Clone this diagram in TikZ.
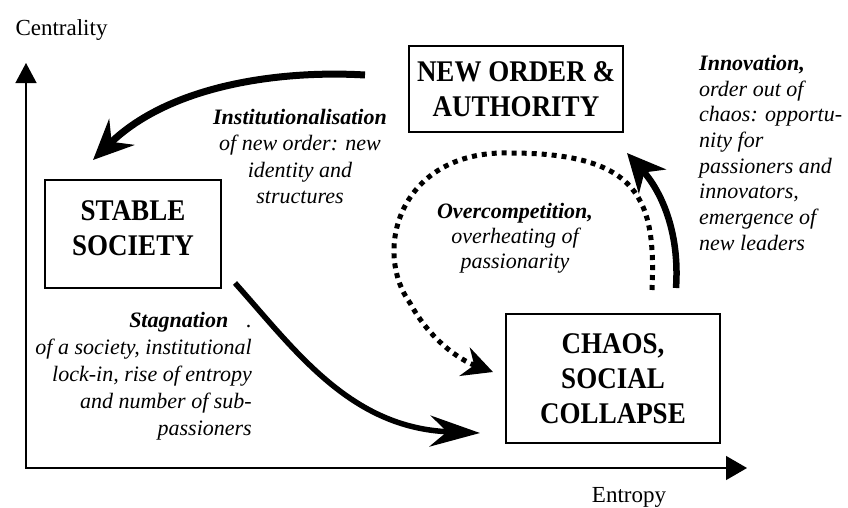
\documentclass[tikz,border=0pt]{standalone}
\usepackage{fontspec}
\setmainfont{Liberation Serif}
\newfontfamily\boxfont[FakeStretch=0.9]{Liberation Serif}
\usetikzlibrary{arrows.meta}
\begin{document}
\begin{tikzpicture}[x=1pt,y=-1pt,
  box/.style={draw, line width=1.3pt, inner sep=0pt, align=center,
    font={\boxfont\bfseries\fontsize{30}{35}\selectfont}},
  lbl/.style={inner sep=0pt, font={\fontsize{22}{26.5}\selectfont\itshape}},
  axlbl/.style={inner sep=0pt, font={\fontsize{23}{27}\selectfont}},
  axis/.style={line width=1.3pt},
  bigarrow/.style={line width=#1, line cap=butt},
  dotarrow/.style={line width=5pt, dash pattern=on 5pt off 5pt, line cap=butt}
]
\useasboundingbox (0,0) rectangle (848,507);

% axes
\coordinate (origin) at (26,468);
\coordinate (ytip) at (26,63);
\coordinate (xtip) at (747,468);
\draw[axis, {Triangle[length=20pt,width=21pt]}-{Triangle[length=21pt,width=24pt]}] (ytip) -- (origin) -- (xtip);
\node[axlbl, anchor=base] (centr) at (61.5,35) {Centrality};
\node[axlbl, anchor=base] (entr) at (629,502) {Entropy};

% boxes
\node[box, minimum width=214pt, minimum height=86pt] (neworder) at (516,89) {NEW ORDER \&\\AUTHORITY};
\node[box, minimum width=176pt, minimum height=108pt, text depth=12pt] (stable) at (133,234) {STABLE\\SOCIETY};
\node[box, minimum width=214pt, minimum height=129pt] (chaos) at (613,378.5) {CHAOS,\\SOCIAL\\COLLAPSE};

% labels
\node[lbl, anchor=north, align=center] (inst) at (300,109)
  {\textbf{Institutionalisation}\\of new order: new\\identity and\\structures};
\node[lbl, anchor=north west, align=left, font={\fontsize{22}{25.7}\selectfont\itshape}] (innov) at (699,55)
  {\textbf{Innovation,}\\order out of\\chaos: opportu-\\nity for\\passioners and\\innovators,\\emergence of\\new leaders};
\node[lbl, anchor=north, align=center, font={\fontsize{22}{25}\selectfont\itshape}] (overc) at (515,203)
  {\textbf{Overcompetition,}\\overheating of\\passionarity};
\node[lbl, anchor=north east, align=right, font={\fontsize{22}{27}\selectfont\itshape}] (stag) at (252,312)
  {\textbf{Stagnation}\hspace{18pt}.\\of a society, institutional\\lock-in, rise of entropy\\and number of sub-\\passioners};

% connectors
\coordinate (i0) at (365,75);
\coordinate (i1) at (93,160);
\draw[bigarrow=7pt, -{Stealth[length=40pt,width=36pt,inset=14pt]}]
  (i0) .. controls (280,70) and (170,85) .. (i1);

\coordinate (s0) at (235,283);
\coordinate (s1) at (480,433);
\draw[bigarrow=5.5pt, -{Stealth[length=50pt,width=31pt,inset=17pt]}]
  (s0) .. controls (295,350) and (350,428) .. (s1);

\coordinate (n0) at (676,288);
\coordinate (n1) at (627,153);
\draw[bigarrow=6.5pt, -{Stealth[length=38pt,width=36pt,inset=12pt]}]
  (n0) .. controls (680,230) and (660,190) .. (n1);

\coordinate (o0) at (652,290);
\coordinate (o1) at (510,153);
\coordinate (o2) at (410,303);
\coordinate (o3) at (493,372);
\draw[dotarrow, -{Stealth[length=30pt,width=30pt,inset=10pt]}]
  (o0) .. controls (656,200) and (640,153) .. (o1)
  .. controls (400,150) and (372,250) .. (o2)
  .. controls (430,340) and (460,360) .. (o3);
\end{tikzpicture}
\end{document}
